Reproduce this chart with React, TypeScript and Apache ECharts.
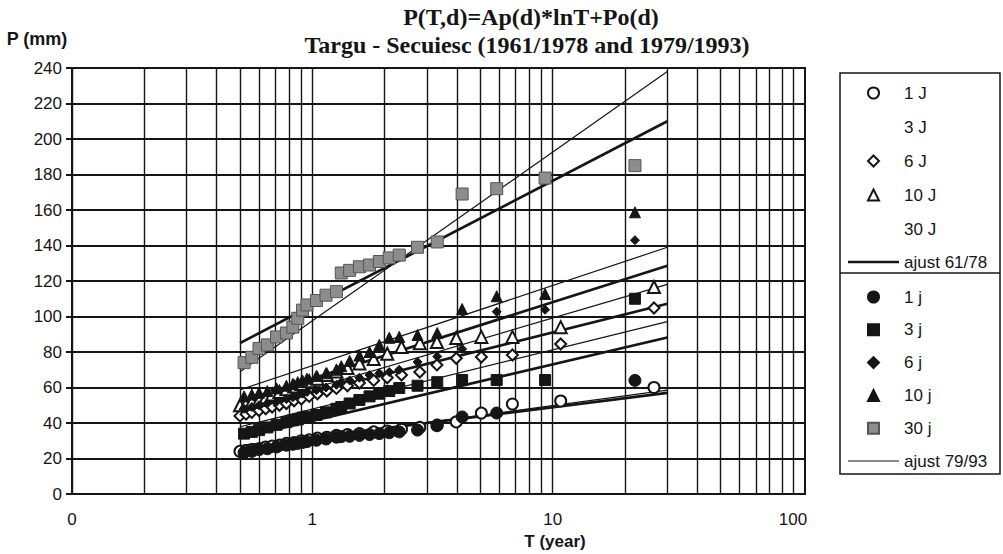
import React, { useEffect, useRef } from 'react';
import * as echarts from 'echarts';

// Return periods (years) of the plotted points
const T79 = [0.52, 0.56, 0.6, 0.65, 0.71, 0.78, 0.83, 0.87, 0.91, 0.95, 1.04, 1.14, 1.26, 1.32, 1.43, 1.57, 1.73, 1.9, 2.09, 2.3, 2.74, 3.31, 4.2, 5.85, 9.3, 22];
const T61 = [0.5, 0.53, 0.56, 0.6, 0.64, 0.68, 0.73, 0.78, 0.84, 0.9, 0.97, 1.05, 1.15, 1.26, 1.4, 1.57, 1.8, 2.05, 2.35, 2.8, 3.3, 3.97, 5.05, 6.8, 10.8, 26.4];

// 1961/1978 (open markers)
const P1J = [24, 24.5, 25, 25.5, 26.5, 27, 27.5, 28.5, 29, 30, 30.5, 31.5, 32, 33, 33.5, 34, 35, 35.5, 36.5, 37.5, 38.5, 40.6, 45.6, 50.7, 52.4, 60];
const P6J = [44, 45, 46, 47, 48, 49, 50, 51, 52.5, 53.5, 55, 56.5, 58, 59.5, 61, 62.5, 64, 65.5, 67, 68.7, 72.7, 76.5, 77.2, 78.3, 84.5, 104.8];
const P10J = [50, 51, 52, 53, 54.5, 56, 57.5, 59, 60.5, 62, 63.5, 65, 67, 69, 71, 73.5, 76, 79, 82.8, 85, 85.6, 87.9, 88.5, 88.5, 94, 116.6];

// 1979/1993 (filled markers)
const P1j = [23.3, 24, 25, 25.5, 26.5, 27.5, 28, 28.5, 29, 29.5, 30.3, 31, 32, 32.3, 32.5, 33, 33.5, 34, 34.5, 35, 36, 38.9, 43.4, 45.6, null, 64];
const P3j = [34, 35, 36, 37.5, 39, 40.5, 41.5, 42, 43, 43.5, 44.5, 46, 48, 49, 51, 53, 55, 56.5, 58, 59.7, 61, 63, 64.2, 64.2, 64.2, 110];
const P6j = [48, 49, 50, 51, 52, 53.5, 54.5, 55.5, 56.5, 57.5, 58.5, 60, 61.5, 63, 64, 65.5, 67, 68, 68.7, 70, 74.4, 77.5, 81.7, 102.7, 103.8, 143];
const P10j = [55, 56, 57, 58, 59.5, 61, 62, 63, 64, 65, 66.5, 68, 70, 72, 75, 78, 80, 84, 88, 88.5, 89.6, 90.7, 104.2, 111.4, 112.7, 158.7];
const P30j = [74, 77, 82, 84, 88.5, 90.7, 94, 99, 103.6, 106.5, 109, 112, 114, 124.5, 126, 128, 129, 131, 133, 134.6, 139, 142, 169, 172, 178, 185];

// Fitted lines P = Ap*lnT + Po, given by their values at fitT
const fitT = [0.5, 30];
const fitDurations = ['1', '3', '6', '10', '30'];
const fit61Start = [26.8, 31.6, 47, 52.1, 85];
const fit61End = [57, 88.2, 107.2, 128.6, 210];
const fit79Start = [26, 37.9, 47.4, 58.7, 68.9];
const fit79End = [58.5, 97.1, 118.1, 139, 238];

// Axis ticks
const xGridValues = [0.1, 0.2, 0.3, 0.4, 0.5, 0.6, 0.7, 0.8, 0.9, 1, 2, 3, 4, 5, 6, 7, 8, 9, 10, 20, 30, 40, 50, 60, 70, 80, 90, 100];
const xLabelValues = [0.1, 1, 10, 100];
const yMin = 0;
const yMax = 240;
const yStep = 20;

const legend61 = ['1 J', '3 J', '6 J', '10 J', '30 J'];
const legend79 = ['1 j', '3 j', '6 j', '10 j', '30 j'];

const INK = '#151515';
const SANS = 'Liberation Sans, Arial, sans-serif';
const SERIF = 'Liberation Serif, Times New Roman, serif';

function pts(T: number[], P: (number | null)[]) {
  const out: any[] = [];
  T.forEach((t, i) => {
    if (P[i] != null) out.push([t, P[i]]);
  });
  return out;
}

export default function App() {
  const ref = useRef<HTMLDivElement>(null);
  useEffect(() => {
    if (!ref.current) return;
    const chart = echarts.init(ref.current, null, { renderer: 'svg' });

    const open = (name: string, symbol: string, size: number, data: any[]) => ({
      name, type: 'scatter', symbol, symbolSize: size, data, z: 4,
      itemStyle: { color: '#ffffff', borderColor: INK, borderWidth: 2, opacity: 1 },
    });
    const filled = (name: string, symbol: string, size: number, data: any[], color = INK, border = INK) => ({
      name, type: 'scatter', symbol, symbolSize: size, data, z: 5,
      itemStyle: { color, borderColor: border, borderWidth: 1, opacity: 1 },
    });
    const hidden = (name: string) => ({
      name, type: 'scatter', data: [], itemStyle: { color: 'rgba(0,0,0,0)' },
    });

    const fitSeries: any[] = [];
    fitDurations.forEach((d, i) => {
      fitSeries.push({
        name: 'ajust 61/78', type: 'line', symbol: 'none', z: 3,
        data: [[fitT[0], fit61Start[i]], [fitT[1], fit61End[i]]],
        lineStyle: { color: INK, width: 2.7 }, itemStyle: { color: INK },
      });
    });
    fitDurations.forEach((d, i) => {
      fitSeries.push({
        name: 'ajust 79/93', type: 'line', symbol: 'none', z: 3,
        data: [[fitT[0], fit79Start[i]], [fitT[1], fit79End[i]]],
        lineStyle: { color: INK, width: 1.2 }, itemStyle: { color: INK },
      });
    });

    const legendText = { fontFamily: SANS, fontSize: 17, color: INK, lineHeight: 17 };
    const markerLegend = (data: string[], top: number, gap: number) => ({
      orient: 'vertical', left: 862, top, itemWidth: 11, itemHeight: 11, itemGap: gap,
      selectedMode: false, textStyle: { ...legendText, padding: [0, 0, 0, 20] }, data,
    });
    const lineLegend = (name: string, top: number, h: number) => ({
      orient: 'vertical', left: 843, top, itemWidth: 51, itemHeight: h, icon: 'rect',
      selectedMode: false, textStyle: legendText, data: [name],
    });

    const option: any = {
      animation: false,
      backgroundColor: '#ffffff',
      title: [
        { text: 'P(T,d)=Ap(d)*lnT+Po(d)', left: 526, top: 0, textAlign: 'center',
          textStyle: { fontFamily: SERIF, fontWeight: 'bold', fontSize: 24, color: INK } },
        { text: 'Targu - Secuiesc (1961/1978 and 1979/1993)', left: 522, top: 28, textAlign: 'center',
          textStyle: { fontFamily: SERIF, fontWeight: 'bold', fontSize: 24, color: INK } },
      ],
      grid: { left: 72, right: 198, top: 68, bottom: 60, show: true, borderColor: INK, borderWidth: 2, backgroundColor: 'transparent' },
      xAxis: {
        type: 'log', logBase: 10, min: 0.1, max: 112.2,
        axisLine: { show: true, lineStyle: { color: INK, width: 2 } },
        axisTick: { show: false, customValues: xGridValues },
        splitLine: { show: true, lineStyle: { color: INK, width: 1.4 } },
        axisLabel: {
          customValues: xLabelValues, margin: 17, fontFamily: SANS, fontSize: 17, color: INK,
          formatter: (v: number) => (v < 0.5 ? '0' : String(Math.round(v))),
        },
      },
      yAxis: {
        type: 'value', min: yMin, max: yMax, interval: yStep,
        axisLine: { show: true, lineStyle: { color: INK, width: 2 } },
        axisTick: { show: true, length: 6, lineStyle: { color: INK, width: 2 } },
        splitLine: { show: true, lineStyle: { color: INK, width: 2 } },
        axisLabel: { margin: 10, fontFamily: SANS, fontSize: 17, color: INK },
      },
      legend: [
        markerLegend(legend61, 79.5, 17),
        lineLegend('ajust 61/78', 248.5, 2.7),
        markerLegend(legend79, 283.5, 15.8),
        lineLegend('ajust 79/93', 447.5, 1.2),
      ],
      graphic: [
        { type: 'rect', shape: { x: 840, y: 73, width: 160, height: 401 }, style: { fill: 'none', stroke: INK, lineWidth: 1.5 }, silent: true },
        { type: 'line', shape: { x1: 840, y1: 273, x2: 1000, y2: 273 }, style: { stroke: INK, lineWidth: 1.5 }, silent: true },
        { type: 'text', x: 37, y: 39, style: { text: 'P (mm)', fontFamily: SANS, fontWeight: 'bold', fontSize: 18, fill: INK, textAlign: 'center', textVerticalAlign: 'middle' } },
        { type: 'text', x: 555, y: 541, style: { text: 'T (year)', fontFamily: SANS, fontWeight: 'bold', fontSize: 17, fill: INK, textAlign: 'center', textVerticalAlign: 'middle' } },
      ],
      series: [
        ...fitSeries,
        open('1 J', 'circle', 11, pts(T61, P1J)),
        hidden('3 J'),
        open('6 J', 'diamond', 11, pts(T61, P6J)),
        open('10 J', 'triangle', 12, pts(T61, P10J)),
        hidden('30 J'),
        filled('1 j', 'circle', 12, pts(T79, P1j)),
        filled('3 j', 'rect', 11, pts(T79, P3j)),
        filled('6 j', 'diamond', 9, pts(T79, P6j)),
        filled('10 j', 'triangle', 11, pts(T79, P10j)),
        filled('30 j', 'rect', 12, pts(T79, P30j), '#8d8d8d', '#555555'),
      ],
    };
    chart.setOption(option);
    return () => chart.dispose();
  }, []);
  return <div ref={ref} style={{ width: 1003, height: 554, position: 'absolute', left: 0, top: 0 }} />;
}
